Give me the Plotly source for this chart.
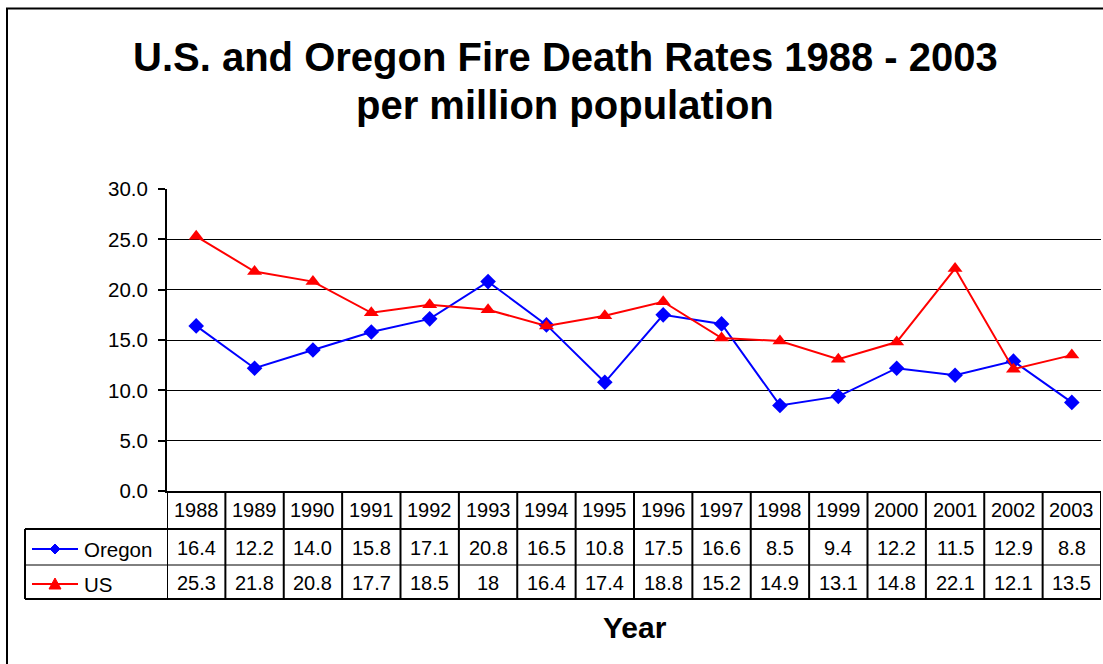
import plotly.graph_objects as go

years = ["1988", "1989", "1990", "1991", "1992", "1993", "1994", "1995",
         "1996", "1997", "1998", "1999", "2000", "2001", "2002", "2003"]
oregon = [16.4, 12.2, 14.0, 15.8, 17.1, 20.8, 16.5, 10.8, 17.5, 16.6, 8.5, 9.4, 12.2, 11.5, 12.9, 8.8]
us = [25.3, 21.8, 20.8, 17.7, 18.5, 18, 16.4, 17.4, 18.8, 15.2, 14.9, 13.1, 14.8, 22.1, 12.1, 13.5]
oregon_labels = ["16.4", "12.2", "14.0", "15.8", "17.1", "20.8", "16.5", "10.8",
                 "17.5", "16.6", "8.5", "9.4", "12.2", "11.5", "12.9", "8.8"]
us_labels = ["25.3", "21.8", "20.8", "17.7", "18.5", "18", "16.4", "17.4",
             "18.8", "15.2", "14.9", "13.1", "14.8", "22.1", "12.1", "13.5"]
series_names = ["Oregon", "US"]
title_lines = ["U.S. and Oregon Fire Death Rates 1988 - 2003", "per million population"]
x_title = "Year"

FONT = "Arial, Liberation Sans, sans-serif"
W_FIG, H_FIG = 1103, 664
L, R, T, B = 167, 1101, 189, 491
PW, PH = R - L, B - T


def px(xp):
    return (xp - L) / PW


def py(yp):
    return (B - yp) / PH


n = len(years)
xs = list(range(n))

fig = go.Figure()
fig.add_trace(go.Scatter(x=xs, y=oregon, mode="lines+markers", name=series_names[0],
                         line=dict(color="#0000FF", width=2),
                         marker=dict(symbol="diamond", size=12, color="#0000FF"),
                         cliponaxis=False))
fig.add_trace(go.Scatter(x=xs, y=us, mode="lines+markers", name=series_names[1],
                         line=dict(color="#FF0000", width=2),
                         marker=dict(symbol="triangle-up", size=13, color="#FF0000"),
                         cliponaxis=False))

shapes = []
annotations = []

# outer chart border
shapes.append(dict(type="rect", xref="paper", yref="paper",
                   x0=px(7), x1=px(1110), y0=py(8.5), y1=py(670),
                   line=dict(color="black", width=2), fillcolor="rgba(0,0,0,0)", layer="below"))

# table rows (pixel positions)
ROW_TOP, ROW1, ROW2, ROW_BOT = B, 529, 565, 599
LEG_LEFT = 25

for i in range(n + 1):
    shapes.append(dict(type="line", xref="x", yref="paper",
                       x0=i - 0.5, x1=i - 0.5, y0=py(ROW_TOP), y1=py(ROW_BOT),
                       line=dict(color="black", width=2)))
shapes.append(dict(type="line", xref="paper", yref="paper", x0=px(LEG_LEFT), x1=1,
                   y0=py(ROW1), y1=py(ROW1), line=dict(color="black", width=2)))
shapes.append(dict(type="line", xref="paper", yref="paper", x0=px(LEG_LEFT), x1=1,
                   y0=py(ROW2), y1=py(ROW2), line=dict(color="black", width=1)))
shapes.append(dict(type="line", xref="paper", yref="paper", x0=px(LEG_LEFT), x1=1,
                   y0=py(ROW_BOT), y1=py(ROW_BOT), line=dict(color="black", width=2)))
shapes.append(dict(type="line", xref="paper", yref="paper", x0=px(LEG_LEFT), x1=px(LEG_LEFT),
                   y0=py(ROW1), y1=py(ROW_BOT), line=dict(color="black", width=2)))

# legend keys
leg_y = [549, 584]
colors = ["#0000FF", "#FF0000"]
for k in range(2):
    yy = leg_y[k]
    shapes.append(dict(type="line", xref="paper", yref="paper", x0=px(32), x1=px(78),
                       y0=py(yy), y1=py(yy), line=dict(color=colors[k], width=2)))
cx = 55
d = 5
shapes.append(dict(type="path", xref="paper", yref="paper",
                   path=f"M {px(cx - d)} {py(leg_y[0])} L {px(cx)} {py(leg_y[0] - d)} "
                        f"L {px(cx + d)} {py(leg_y[0])} L {px(cx)} {py(leg_y[0] + d)} Z",
                   fillcolor="#0000FF", line=dict(color="#0000FF", width=1)))
t = 6
shapes.append(dict(type="path", xref="paper", yref="paper",
                   path=f"M {px(cx - t)} {py(leg_y[1] + 5)} L {px(cx)} {py(leg_y[1] - 6)} "
                        f"L {px(cx + t)} {py(leg_y[1] + 5)} Z",
                   fillcolor="#FF0000", line=dict(color="#FF0000", width=1)))
for k in range(2):
    annotations.append(dict(text=series_names[k], xref="paper", yref="paper",
                            x=px(82), y=py(leg_y[k]), xanchor="left", yanchor="middle",
                            showarrow=False, font=dict(family=FONT, size=20.5, color="black")))

# table text
row_centers = [510, 548, 583]
for i in range(n):
    for r, labels in enumerate([years, oregon_labels, us_labels]):
        annotations.append(dict(text=labels[i], xref="x", yref="paper",
                                x=xs[i], y=py(row_centers[r]), xanchor="center", yanchor="middle",
                                showarrow=False, font=dict(family=FONT, size=20, color="black")))

# title
title_y = [57, 105]
for k, line in enumerate(title_lines):
    annotations.append(dict(text=line, xref="paper", yref="paper",
                            x=px(565), y=py(title_y[k]), xanchor="center", yanchor="middle",
                            showarrow=False,
                            font=dict(family=FONT, size=40, color="black", weight="bold")))

annotations.append(dict(text=x_title, xref="paper", yref="paper",
                        x=px(635), y=py(627), xanchor="center", yanchor="middle",
                        showarrow=False, font=dict(family=FONT, size=30, color="black", weight="bold")))

fig.update_layout(
    width=W_FIG, height=H_FIG,
    margin=dict(l=L, r=W_FIG - R, t=T, b=H_FIG - B, pad=0),
    paper_bgcolor="white", plot_bgcolor="white",
    showlegend=False,
    shapes=shapes, annotations=annotations,
    xaxis=dict(range=[-0.5, n - 0.5], showticklabels=False, showgrid=False, zeroline=False,
               showline=True, linecolor="black", linewidth=2, ticks=""),
    yaxis=dict(range=[0, 30], dtick=5, tickformat=".1f", showgrid=True, gridcolor="black",
               gridwidth=1, zeroline=False, showline=True, linecolor="black", linewidth=2,
               ticks="outside", ticklen=7, tickwidth=1.5, tickcolor="black",
               tickfont=dict(family=FONT, size=20.5, color="black"), ticklabelstandoff=6),
)

fig.write_html("out.html", config={"displayModeBar": False},
               post_script="document.body.style.margin='0';")
